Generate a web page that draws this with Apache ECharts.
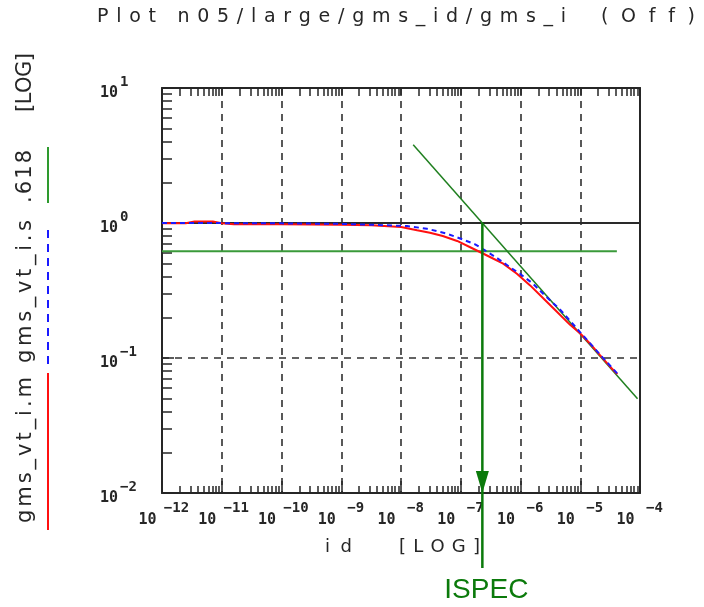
<!DOCTYPE html>
<html>
<head>
<meta charset="utf-8">
<script src="https://cdn.jsdelivr.net/npm/echarts@6/dist/echarts.min.js"></script>
<style>
  html, body { margin: 0; padding: 0; background: #ffffff; }
  #chart { width: 704px; height: 607px; }
</style>
</head>
<body>
<div id="chart"></div>
<script>
// Measured gm/Id-style curve (gms_vt_i.m) versus drain current id [A]
const idMeas  = [1e-12, 2.5e-12, 3.5e-12, 7.1e-12, 1e-11, 1.6e-11, 1e-10, 1e-9, 3.2e-9, 1e-8,
                 1.86e-8, 3.05e-8, 5.0e-8, 8.7e-8, 1.41e-7, 2.09e-7, 3.09e-7, 5.13e-7, 8.7e-7,
                 1.45e-6, 2.4e-6, 4.07e-6, 6.76e-6, 1e-5, 1.45e-5, 2.14e-5, 3.16e-5, 4.17e-5];
const gmsMeas = [0.995, 0.995, 1.025, 1.025, 0.995, 0.978, 0.978, 0.972, 0.962, 0.935,
                 0.883, 0.848, 0.801, 0.736, 0.664, 0.610, 0.560, 0.500, 0.421,
                 0.345, 0.277, 0.220, 0.176, 0.152, 0.128, 0.105, 0.0862, 0.076];

// Simulated curve (gms_vt_i.s)
const idSim  = [1e-12, 1e-11, 1e-10, 1e-9, 3.2e-9, 1.26e-8, 2.72e-8, 5.9e-8, 1e-7, 1.74e-7,
                2.63e-7, 4.17e-7, 6.6e-7, 9.8e-7, 1.62e-6, 2.57e-6, 4.57e-6, 1e-5, 2.14e-5, 4.17e-5];
const gmsSim = [1.0, 0.998, 0.994, 0.985, 0.970, 0.950, 0.907, 0.833, 0.765, 0.695,
                0.622, 0.545, 0.472, 0.421, 0.355, 0.290, 0.229, 0.155, 0.106, 0.0767];

// Strong-inversion asymptote (slope -1/2 in log-log)
const asymId  = [1.6e-8, 9.1e-5];
const asymGms = [3.8, 0.05];

// Reference levels
const unityLevel  = 1;
const goldenLevel = 0.618;
const goldenId    = [1e-12, 4.1e-5];

// Axis extents and decade tick exponents
const xExps = [-12, -11, -10, -9, -8, -7, -6, -5, -4];
const yExps = [-2, -1, 0, 1];

const pow10 = e => Math.pow(10, e);
const xMin = pow10(xExps[0]), xMax = pow10(xExps[xExps.length - 1]);
const yMin = pow10(yExps[0]), yMax = pow10(yExps[yExps.length - 1]);

// Minor ticks at 2..9 times each decade
function minorValues(exps) {
  const out = [];
  for (let i = 0; i < exps.length - 1; i++) {
    for (let m = 2; m <= 9; m++) out.push(m * pow10(exps[i]));
  }
  return out;
}
const xMinor = minorValues(xExps);
const yMinor = minorValues(yExps);
const xDecades = xExps.map(pow10);

// ISPEC: where the asymptote crosses the unity line
const lx1 = Math.log10(asymId[0]), lx2 = Math.log10(asymId[1]);
const ly1 = Math.log10(asymGms[0]), ly2 = Math.log10(asymGms[1]);
const ispec = pow10(lx1 + (Math.log10(unityLevel) - ly1) * (lx2 - lx1) / (ly2 - ly1));

const zip = (a, b) => a.map((v, i) => [v, b[i]]);
const expText = v => {
  const e = Math.round(Math.log10(v));
  return e < 0 ? '\u2212' + (-e) : String(e);
};

const INK = '#262626';
const MONO = '"DejaVu Sans Mono", monospace';

const chart = echarts.init(document.getElementById('chart'), null, { renderer: 'canvas' });

const minorTickAxis = (pos, values, len, showLine) => ({
  type: 'log', logBase: 10, min: pos === 'top' || pos === 'bottom' ? xMin : yMin,
  max: pos === 'top' || pos === 'bottom' ? xMax : yMax,
  position: pos,
  axisLine: { show: showLine, lineStyle: { color: INK, width: 2 } },
  axisTick: { show: values.length > 0, inside: true, length: len, customValues: values,
              lineStyle: { color: INK, width: 1.5 } },
  axisLabel: { show: false },
  splitLine: { show: false }
});

chart.setOption({
  animation: false,
  backgroundColor: '#ffffff',
  grid: { left: 162, top: 88, width: 478, height: 405, containLabel: false },
  xAxis: [
    {
      type: 'log', logBase: 10, min: xMin, max: xMax, interval: 1, position: 'bottom',
      axisLine: { show: true, lineStyle: { color: INK, width: 2 } },
      axisTick: { show: true, inside: true, length: 12, lineStyle: { color: INK, width: 1.5 } },
      axisLabel: {
        show: true, margin: 8, showMinLabel: true, showMaxLabel: true,
        formatter: v => '{b|10}{e|' + expText(v) + '}',
        rich: {
          b: { fontFamily: MONO, fontSize: 15, fontWeight: 'bold', color: INK, width: 26, align: 'right',
               verticalAlign: 'bottom', padding: [12, 1, 0, 0] },
          e: { fontFamily: MONO, fontSize: 14, fontWeight: 'bold', color: INK, width: 26, align: 'left',
               verticalAlign: 'top', padding: [0, 0, 0, 2] }
        }
      },
      splitLine: { show: true, lineStyle: { color: '#303030', width: 1.6, type: [7, 6] } }
    },
    minorTickAxis('bottom', xMinor, 7, false),
    minorTickAxis('top', xMinor.concat(xDecades), 8, true)
  ],
  yAxis: [
    {
      type: 'log', logBase: 10, min: yMin, max: yMax, interval: 1, position: 'left',
      axisLine: { show: true, lineStyle: { color: INK, width: 2 } },
      axisTick: { show: true, inside: true, length: 12, lineStyle: { color: INK, width: 1.5 } },
      axisLabel: {
        show: true, margin: 62, align: 'left', showMinLabel: true, showMaxLabel: true,
        formatter: v => '{b|10}{e|' + expText(v) + '}',
        rich: {
          b: { fontFamily: MONO, fontSize: 15, fontWeight: 'bold', color: INK,
               verticalAlign: 'bottom', padding: [11, 2, 0, 0] },
          e: { fontFamily: MONO, fontSize: 14, fontWeight: 'bold', color: INK,
               verticalAlign: 'top' }
        }
      },
      splitLine: { show: true, lineStyle: { color: '#303030', width: 1.6, type: [7, 6] } }
    },
    minorTickAxis('left', yMinor, 10, false),
    minorTickAxis('right', [], 0, true)
  ],
  series: [
    {
      name: 'unity', type: 'line', xAxisIndex: 0, yAxisIndex: 0, symbol: 'none', silent: true,
      data: [[xMin, unityLevel], [xMax, unityLevel]],
      lineStyle: { color: '#2a2a2a', width: 2 }, z: 3
    },
    {
      name: '.618', type: 'line', xAxisIndex: 0, yAxisIndex: 0, symbol: 'none', silent: true,
      data: [[goldenId[0], goldenLevel], [goldenId[1], goldenLevel]],
      lineStyle: { color: '#3a9a3a', width: 2 }, z: 3
    },
    {
      name: 'asymptote', type: 'line', xAxisIndex: 0, yAxisIndex: 0, symbol: 'none', silent: true,
      data: zip(asymId, asymGms),
      lineStyle: { color: '#1f7f1f', width: 1.5 }, z: 4
    },
    {
      name: 'gms_vt_i.m', type: 'line', xAxisIndex: 0, yAxisIndex: 0, symbol: 'none',
      data: zip(idMeas, gmsMeas),
      lineStyle: { color: '#ff1010', width: 2 }, z: 5
    },
    {
      name: 'gms_vt_i.s', type: 'line', xAxisIndex: 0, yAxisIndex: 0, symbol: 'none',
      data: zip(idSim, gmsSim),
      lineStyle: { color: '#1a1aff', width: 2, type: [5, 4] }, z: 6
    }
  ]
});

// Letter-spaced text, laid out glyph by glyph between two positions
const measureCtx = document.createElement('canvas').getContext('2d');
function spreadText(str, font, from, to, cross, vertical, color) {
  measureCtx.font = font;
  const chars = Array.from(str);
  const widths = chars.map(c => measureCtx.measureText(c).width);
  const total = widths.reduce((a, b) => a + b, 0);
  const gap = chars.length > 1 ? (Math.abs(to - from) - total) / (chars.length - 1) : 0;
  const out = [];
  let pos = 0;
  chars.forEach((c, i) => {
    if (c !== ' ') {
      out.push({
        type: 'text', silent: true,
        x: vertical ? cross : from + pos,
        y: vertical ? from - pos : cross,
        rotation: vertical ? Math.PI / 2 : 0,
        style: { text: c, font: font, fill: color, align: 'left', verticalAlign: 'middle',
                 textAlign: 'left', textVerticalAlign: 'middle' }
      });
    }
    pos += widths[i] + gap;
  });
  return out;
}

const SANS_TITLE = '19px "DejaVu Sans"';
const SANS_NAME = '18px "DejaVu Sans"';
const SANS_SIDE = '21px "DejaVu Sans"';

const ispecTop = chart.convertToPixel({ gridIndex: 0 }, [ispec, unityLevel]);
const ispecAxis = chart.convertToPixel({ gridIndex: 0 }, [ispec, yMin]);
const ISPEC_GREEN = '#0b7a0b';

const elements = [].concat(
  spreadText('Plot n05/large/gms_id/gms_i', SANS_TITLE, 97, 566, 17, false, INK),
  spreadText('(Off)', SANS_TITLE, 601, 695, 17, false, INK),
  spreadText('id', SANS_NAME, 325, 352, 547, false, INK),
  spreadText('[LOG]', SANS_NAME, 399, 480, 547, false, INK),
  spreadText('[LOG]', SANS_SIDE, 112, 53, 26, true, INK),
  spreadText('.618', SANS_SIDE, 203, 150, 26, true, INK),
  spreadText('gms_vt_i.s', SANS_SIDE, 363, 220, 26, true, INK),
  spreadText('gms_vt_i.m', SANS_SIDE, 523, 377, 26, true, INK),
  [
    // legend swatches
    { type: 'line', silent: true, shape: { x1: 48, y1: 147, x2: 48, y2: 203 },
      style: { stroke: '#2e9a2e', lineWidth: 2 } },
    { type: 'line', silent: true, shape: { x1: 48, y1: 230, x2: 48, y2: 365 },
      style: { stroke: '#1a1aff', lineWidth: 2, lineDash: [8, 6] } },
    { type: 'line', silent: true, shape: { x1: 48, y1: 373, x2: 48, y2: 530 },
      style: { stroke: '#ff1010', lineWidth: 2 } },
    // ISPEC leader with arrowhead on the id axis
    { type: 'line', silent: true, z: 10,
      shape: { x1: ispecTop[0], y1: ispecTop[1], x2: ispecTop[0], y2: ispecAxis[1] + 75 },
      style: { stroke: ISPEC_GREEN, lineWidth: 2.5 } },
    { type: 'polygon', silent: true, z: 11,
      shape: { points: [[ispecAxis[0], ispecAxis[1]],
                        [ispecAxis[0] - 6.5, ispecAxis[1] - 22],
                        [ispecAxis[0] + 6.5, ispecAxis[1] - 22]] },
      style: { fill: ISPEC_GREEN } },
    { type: 'text', silent: true, z: 11, x: ispecAxis[0] + 4, y: ispecAxis[1] + 97,
      style: { text: 'ISPEC', font: '28px "Liberation Sans"', fill: ISPEC_GREEN,
               align: 'center', verticalAlign: 'middle', textAlign: 'center', textVerticalAlign: 'middle' } }
  ]
);

chart.setOption({ graphic: { elements: elements } });
</script>
</body>
</html>
